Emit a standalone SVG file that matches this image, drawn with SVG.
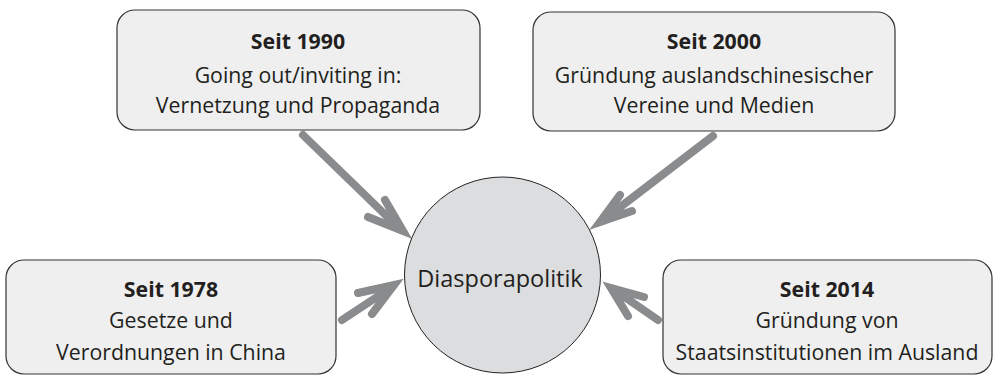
<svg xmlns="http://www.w3.org/2000/svg" width="993" height="375" viewBox="0 0 993 375">
<style>
.box{fill:#efefef;stroke:#333;stroke-width:1.2}
.hub{fill:#dcdddf;stroke:#222;stroke-width:1}
.t{font-family:"Open Sans","Noto Sans","Liberation Sans",sans-serif;font-size:21.3px;fill:#231f20;text-anchor:middle}
.b{font-weight:bold}
.arr{fill:none;stroke:#8a8b8d;stroke-width:8;stroke-linecap:round;stroke-linejoin:miter;stroke-miterlimit:10}
</style>
<rect width="993" height="375" fill="#fff"/>
<g id="connectors">
<path class="arr" d="M303,135 L401,230 M385,200 L403,231 L368,217"/>
<path class="arr" d="M713,136 L602,221 M620,195 L600,222 L632,211"/>
<path class="arr" d="M342,320 L392,287 M358,293 L394,285 L372,314"/>
<path class="arr" d="M658,320 L613,289 M644,297 L611,288 L628,316"/>
</g>
<g id="hub">
<circle class="hub" cx="502.5" cy="275" r="98"/>
<text class="t" x="500" y="287" style="font-size:23.5px">Diasporapolitik</text>
</g>
<g id="node1990">
<rect class="box" x="117" y="10" width="363" height="120" rx="18"/>
<text class="t b" x="298" y="49">Seit 1990</text>
<text class="t" x="298" y="83">Going out/inviting in:</text>
<text class="t" x="298" y="113">Vernetzung und Propaganda</text>
</g>
<g id="node2000">
<rect class="box" x="533" y="12" width="362" height="119" rx="18"/>
<text class="t b" x="714" y="49">Seit 2000</text>
<text class="t" x="714" y="83">Gründung auslandschinesischer</text>
<text class="t" x="714" y="113">Vereine und Medien</text>
</g>
<g id="node1978">
<rect class="box" x="6" y="260" width="330" height="114" rx="18"/>
<text class="t b" x="171" y="297">Seit 1978</text>
<text class="t" x="171" y="328">Gesetze und</text>
<text class="t" x="171" y="360">Verordnungen in China</text>
</g>
<g id="node2014">
<rect class="box" x="663" y="260" width="329" height="114" rx="18"/>
<text class="t b" x="827" y="297">Seit 2014</text>
<text class="t" x="827" y="328">Gründung von</text>
<text class="t" x="827" y="360">Staatsinstitutionen im Ausland</text>
</g>
</svg>
